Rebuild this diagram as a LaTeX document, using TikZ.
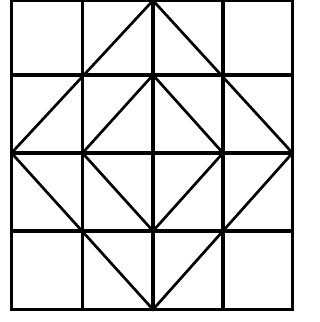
\documentclass[tikz,border=0pt]{standalone}
\usepackage{tikz}
\tikzset{
  gridline/.style={line width=2.6pt,line cap=rect},
  diag/.style={line width=2.3pt,line join=miter}
}

\begin{document}
\begin{tikzpicture}[x=0.03cm,y=-0.03cm]
\useasboundingbox (0,0) rectangle (320,322);
% corners of the cells
\foreach \i/\x in {0/11.5,1/82.5,2/153,3/223,4/292.5}
  \foreach \j/\y in {0/309.5,1/231,2/153,3/75,4/0.5}
    \coordinate (p\i\j) at (\x,\y);
% grid
\foreach \i in {0,...,4} {
  \draw[gridline] (p\i0) -- (p\i4);
  \draw[gridline] (p0\i) -- (p4\i);
}
% outer and inner diamonds
\draw[diag] (p24) -- (p42) -- (p20) -- (p02) -- cycle;
\draw[diag] (p23) -- (p32) -- (p21) -- (p12) -- cycle;
\end{tikzpicture}
\end{document}
